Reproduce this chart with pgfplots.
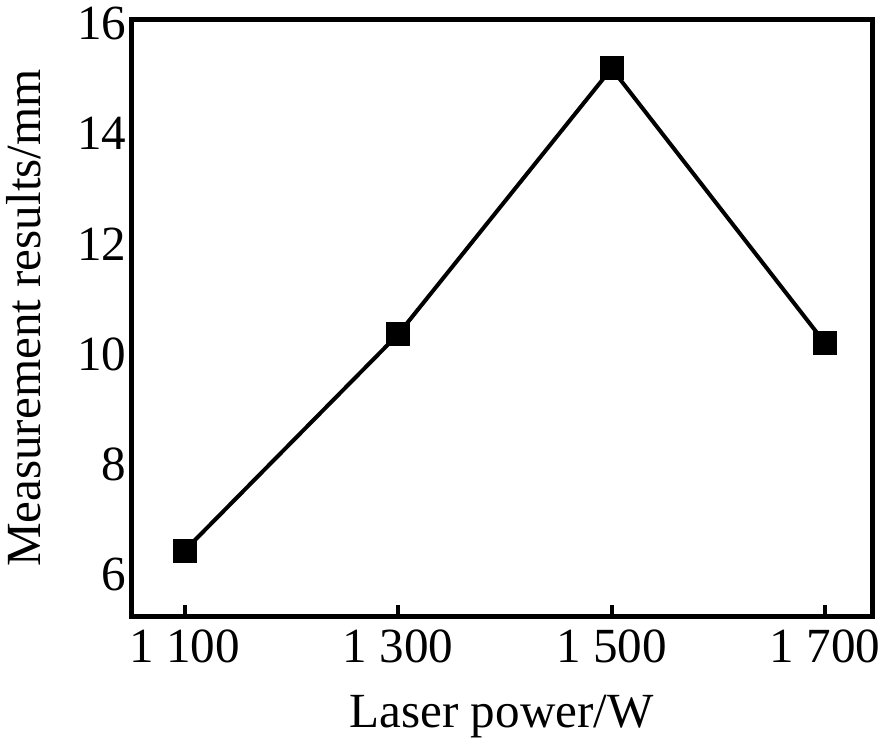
\documentclass[border=0pt]{standalone}
\usepackage{fontspec}
\setmainfont{Liberation Serif}
\usepackage{pgfplots}
\pgfplotsset{compat=1.18}
\begin{document}
\begin{tikzpicture}
\begin{axis}[
  scale only axis,
  width=369.5pt, height=298pt,
  xmin=1050, xmax=1744,
  ymin=5.24, ymax=16.07,
  xtick={1100,1300,1500,1700},
  xticklabels={1\ 100,1\ 300,1\ 500,1\ 700},
  ytick={6,8,10,12,14,16},
  xtick pos=bottom,
  tick align=inside,
  major tick length=6pt,
  ytick style={draw=none},
  xtick style={black, line width=2pt},
  axis line style={black, line width=2.5pt},
  /pgf/number format/assume math mode=true,
  tick label style={font=\fontsize{24.5}{29}\selectfont},
  label style={font=\fontsize{24.5}{29}\selectfont},
  xticklabel style={yshift=-3pt},
  yticklabel style={xshift=1pt},
  xlabel={Laser power/W},
  ylabel={Measurement results/mm},
  xlabel style={yshift=-9pt},
  ylabel style={yshift=11pt},
]
\addplot[black, line width=2pt, mark=square*, mark size=5pt, mark options={solid}]
  coordinates {(1100,6.44) (1300,10.36) (1500,15.18) (1700,10.2)};
\end{axis}
\end{tikzpicture}
\end{document}
